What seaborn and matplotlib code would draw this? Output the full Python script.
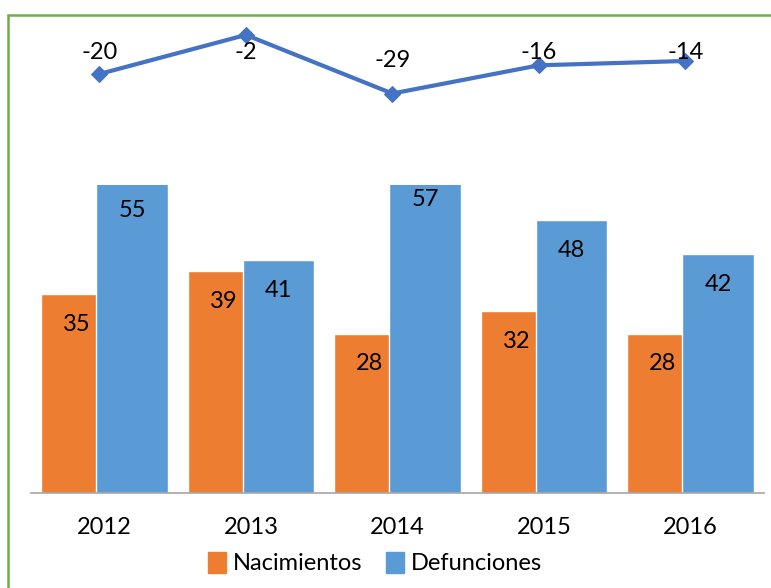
import numpy as np
import pandas as pd
import seaborn as sns
import matplotlib.pyplot as plt
from matplotlib.patches import Patch, Rectangle

# Datos
years = ["2012", "2013", "2014", "2015", "2016"]
nacimientos = [35, 39, 28, 32, 28]
defunciones = [55, 41, 57, 48, 42]
diferencia = [-20, -2, -29, -16, -14]

c_nac = "#ED7D31"
c_def = "#5B9BD5"
c_line = "#4472C4"

sns.set_theme(style="white")
plt.rcParams["font.family"] = ["Lato", "DejaVu Sans"]
plt.rcParams["text.color"] = "black"
plt.rcParams["xtick.color"] = "black"

fs = 17

fig = plt.figure(figsize=(7.71, 5.88), dpi=100)

# Ejes de barras (la parte superior recorta las barras mas altas)
ax = fig.add_axes([31.25 / 771, 95 / 588, 732.5 / 771, 308 / 588])
pos = np.arange(len(years))
sns.barplot(x=pos - 0.188, y=nacimientos, native_scale=True, width=0.49,
            color=c_nac, saturation=1, ax=ax)
sns.barplot(x=pos + 0.188, y=defunciones, native_scale=True, width=0.49,
            color=c_def, saturation=1, ax=ax)
ax.set_xlim(-0.5, 4.5)
ax.set_ylim(0, 54.2)
ax.set_xticks(pos)
ax.set_xticklabels(years, fontsize=fs)
ax.set_yticks([])
ax.tick_params(axis="x", length=0, pad=17)
for s in ["top", "right", "left"]:
    ax.spines[s].set_visible(False)
ax.spines["bottom"].set_color("#A6A6A6")
ax.spines["bottom"].set_linewidth(1.2)
ax.set_xlabel("")
ax.set_ylabel("")

for i in range(len(years)):
    ax.annotate(str(nacimientos[i]), (pos[i] - 0.188, nacimientos[i]), xytext=(0, -21.6),
                textcoords="offset points", ha="center", va="center", fontsize=fs,
                annotation_clip=False)
    ax.annotate(str(defunciones[i]), (pos[i] + 0.188, defunciones[i]), xytext=(0, -21.6),
                textcoords="offset points", ha="center", va="center", fontsize=fs,
                annotation_clip=False)

# Linea de diferencia
ax2 = fig.add_axes([31.25 / 771, (588 - 185) / 588, 732.5 / 771, 165 / 588])
sns.lineplot(x=pos - 0.035, y=diferencia, color=c_line, linewidth=3, marker="D",
             markersize=8, markeredgecolor=c_line, ax=ax2, clip_on=False)
ax2.set_xlim(-0.5, 4.5)
ax2.set_ylim(-71.15, 4.88)
ax2.axis("off")
for i, v in enumerate(diferencia):
    ax2.text(pos[i] - 0.035, min(v + 15, -10), str(v), ha="center", va="center", fontsize=fs)

# Leyenda
handles = [Patch(color=c_nac, label="Nacimientos"), Patch(color=c_def, label="Defunciones")]
fig.legend(handles=handles, loc="center", bbox_to_anchor=(375 / 771, 1 - 563 / 588),
           ncol=2, frameon=False, fontsize=fs, handlelength=0.75, handleheight=1.0,
           handletextpad=0.3, columnspacing=1.0)

# Borde verde
fig.patches.append(Rectangle((8 / 771, -0.05), 1.2, 1.05 - 15 / 588, transform=fig.transFigure,
                             fill=False, edgecolor="#70AD47", linewidth=1.8))

fig.savefig("out.png", dpi=100)
